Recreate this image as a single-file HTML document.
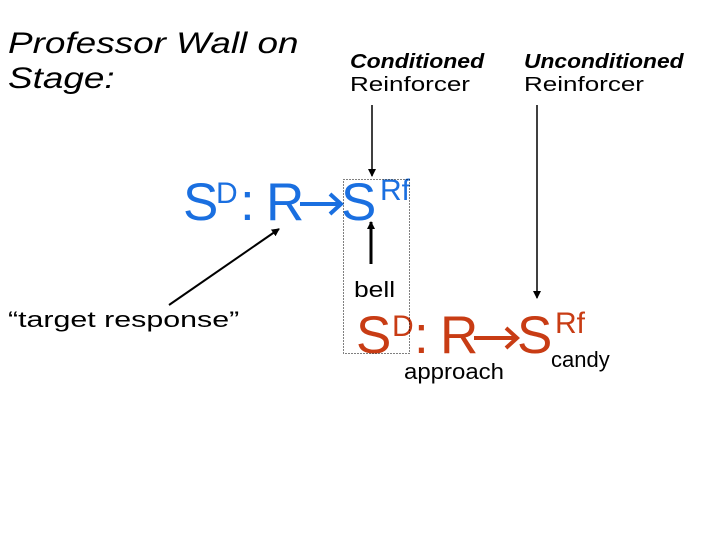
<!DOCTYPE html>
<html><head><style>
body{margin:0;width:720px;height:540px;background:#fff;position:relative;overflow:hidden;font-family:"Liberation Sans",sans-serif}
.t{position:absolute;white-space:nowrap;line-height:1;transform-origin:0 0}
</style></head><body>
<div class="t" style="left:8px;top:29px;font-size:30px;font-style:italic;transform:scaleX(1.23)">Professor Wall on</div>
<div class="t" style="left:8px;top:64px;font-size:30px;font-style:italic;transform:scaleX(1.23)">Stage:</div>
<div class="t" style="left:350px;top:52px;font-size:20px;font-style:italic;font-weight:bold;transform:scaleX(1.15)">Conditioned</div>
<div class="t" style="left:350px;top:75px;font-size:20px;transform:scaleX(1.3)">Reinforcer</div>
<div class="t" style="left:524px;top:52px;font-size:20px;font-style:italic;font-weight:bold;transform:scaleX(1.14)">Unconditioned</div>
<div class="t" style="left:524px;top:75px;font-size:20px;transform:scaleX(1.3)">Reinforcer</div>
<div class="t" style="left:354px;top:279px;font-size:22px;transform:scaleX(1.2)">bell</div>
<div class="t" style="left:8px;top:309px;font-size:22px;transform:scaleX(1.38)">“target response”</div>
<div class="t" style="left:404px;top:361px;font-size:22px;transform:scaleX(1.09)">approach</div>
<div class="t" style="left:551px;top:349px;font-size:22px">candy</div>
<svg width="720" height="540" style="position:absolute;left:0;top:0;font-family:'Liberation Sans',sans-serif">
<defs><marker id="a" markerWidth="8" markerHeight="8" refX="7" refY="4" orient="auto" markerUnits="userSpaceOnUse"><path d="M0,0 L8,4 L0,8z" fill="#000"/></marker></defs>
<g fill="#1a6fe0">
<text x="183" y="220" font-size="53">S</text>
<text x="216" y="203" font-size="30">D</text>
<text x="240" y="220" font-size="53">:</text>
<text x="266" y="220" font-size="53">R</text>
<text x="341" y="220" font-size="53">S</text>
<text x="380" y="200" font-size="30">Rf</text>
<path d="M300,204 H340 M330,194 L341,204 L330,214" stroke="#1a6fe0" stroke-width="4" fill="none"/>
</g>
<g fill="#c83c14">
<text x="356" y="353" font-size="53">S</text>
<text x="392" y="336" font-size="30">D</text>
<text x="414" y="353" font-size="53">:</text>
<text x="440" y="353" font-size="53">R</text>
<text x="517" y="353" font-size="53">S</text>
<text x="555" y="333" font-size="30">Rf</text>
<path d="M474,338 H516 M506,328 L517,338 L506,348" stroke="#c83c14" stroke-width="4" fill="none"/>
</g>
<rect x="343.5" y="179.5" width="66" height="174" fill="none" stroke="#000" stroke-dasharray="1,2"/>
<line x1="372" y1="105" x2="372" y2="176" stroke="#000" stroke-width="1.5" marker-end="url(#a)"/>
<line x1="537" y1="105" x2="537" y2="298" stroke="#000" stroke-width="1.5" marker-end="url(#a)"/>
<line x1="371" y1="264" x2="371" y2="222" stroke="#000" stroke-width="3" marker-end="url(#a)"/>
<line x1="169" y1="305" x2="279" y2="229" stroke="#000" stroke-width="2" marker-end="url(#a)"/>
</svg>
</body></html>
